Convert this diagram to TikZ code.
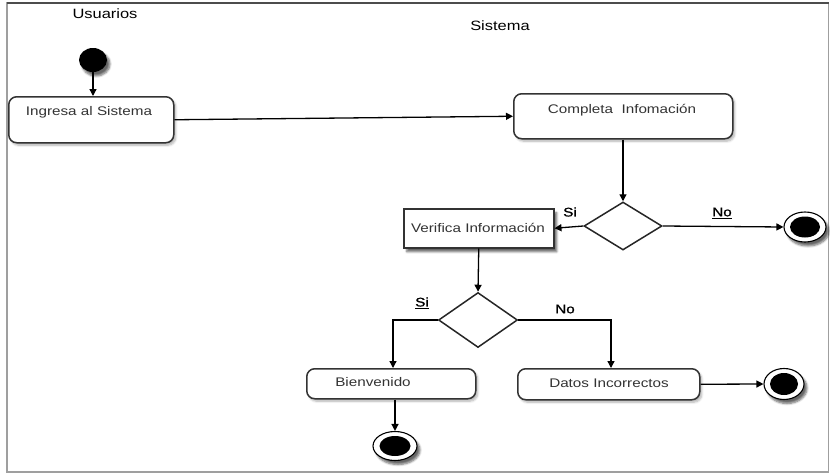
\documentclass[tikz,border=0pt]{standalone}
\usepackage{fontspec}
\setmainfont{Liberation Sans}[FakeStretch=1.22]
\newfontfamily\guardfont{Liberation Sans}[FakeStretch=1.22,FakeBold=1.2]
\usetikzlibrary{arrows.meta,shapes.geometric,shadows.blur}

\begin{document}
\begin{tikzpicture}[x=1pt,y=-1pt,
  every node/.style={font=\fontsize{12.5}{14}\selectfont},
  softshadow/.style={blur shadow={shadow xshift=2pt,shadow yshift=-2.5pt,shadow opacity=30,shadow blur steps=6}},
  darkshadow/.style={blur shadow={shadow xshift=3pt,shadow yshift=-4pt,shadow opacity=60,shadow blur steps=6}},
  roundbox/.style={draw=black!80,line width=1.5pt,rounded corners=8pt,fill=white,softshadow,anchor=north west,inner sep=0pt},
  sqbox/.style={draw=black!80,line width=1.5pt,fill=white,darkshadow,anchor=north west,inner sep=0pt},
  boxtext/.style={text=black!80,inner sep=0pt},
  decision/.style={diamond,draw=black!85,line width=1.5pt,fill=white,inner sep=0pt},
  flow/.style={draw=black,line width=1.3pt,-{Triangle[length=7pt,width=7pt]}},
  startdot/.style={ellipse,fill=black,minimum width=28pt,minimum height=24pt,inner sep=0pt,darkshadow},
  finalring/.style={ellipse,draw=black,line width=1.1pt,fill=white,minimum width=42pt,minimum height=30pt,inner sep=0pt,darkshadow},
  finaldot/.style={ellipse,fill=black,minimum width=30pt,minimum height=21pt,inner sep=0pt},
  guard/.style={text=black,inner sep=0pt,font=\guardfont\fontsize{12.5}{14}\selectfont}
]
\useasboundingbox (0,0) rectangle (830,474);

% frame
\draw[gray!75,line width=1.5pt] (7,3) rectangle (828.5,472);
\draw[black!70,line width=1.5pt] (7,3) -- (828.5,3);

% lane titles
\node[inner sep=0pt,font=\fontsize{13.5}{15}\selectfont] (usuarios) at (105,14) {Usuarios};
\node[inner sep=0pt,font=\fontsize{13.5}{15}\selectfont] (sistema) at (500,26) {Sistema};

% initial state
\node[startdot] (start) at (93,60) {};

% activities
\node[roundbox,minimum width=165pt,minimum height=46pt] (ingresa) at (8,96) {};
\node[boxtext] (ingresa-t) at (89,112) {Ingresa al Sistema};

\node[roundbox,minimum width=219pt,minimum height=45pt] (completa) at (513,93) {};
\node[boxtext] (completa-t) at (622,110) {Completa~ Infomación};

\node[sqbox,minimum width=150pt,minimum height=39pt] (verifica) at (403,208) {};
\node[boxtext] (verifica-t) at (478,227.5) {Verifica Información};

\node[roundbox,minimum width=169pt,minimum height=30pt] (bien) at (306,368) {};
\node[boxtext] (bien-t) at (373,382) {Bienvenido};

\node[roundbox,minimum width=182pt,minimum height=31pt] (datos) at (517,368) {};
\node[boxtext] (datos-t) at (609,383) {Datos Incorrectos};

% decisions
\node[decision,minimum width=78pt,minimum height=48pt] (d1) at (623,226) {};
\node[decision,minimum width=79pt,minimum height=55pt] (d2) at (478,320) {};

% final states
\node[finalring] (fin1) at (805,227) {};
\node[finaldot] (fin1-dot) at (fin1) {};
\node[finalring,minimum width=40pt,minimum height=31pt] (fin2) at (784,384) {};
\node[finaldot,minimum width=28pt,minimum height=22pt] (fin2-dot) at (fin2) {};
\node[finalring,minimum width=44pt,minimum height=29pt] (fin3) at (395,446) {};
\node[finaldot,minimum width=31pt,minimum height=20pt] (fin3-dot) at (fin3) {};

% control flow
\draw[flow] (start) -- (ingresa.north -| start);
\draw[flow] (ingresa.east) -- (completa.west);
\draw[flow] (completa.south -| d1) -- (d1.north);
\draw[flow] (d1.west) -- (verifica.east);
\draw[flow] (d1.east) -- (fin1.west);
\draw[flow] (verifica.south) -- (d2.north);
\coordinate (bien-in) at (393,368);
\coordinate (datos-in) at (611,368);
\draw[flow] (d2.west) -| (bien-in);
\draw[flow] (d2.east) -| (datos-in);
\draw[flow] (bien.south -| fin3) -- (fin3.north);
\draw[flow] (datos.east) -- (fin2.west);

% guards
\node[guard] (g1) at (570,212) {Si};
\node[guard] (g2) at (722,213) {\underline{No}};
\node[guard] (g3) at (422,303) {\underline{Si}};
\node[guard] (g4) at (565,309) {No};
\end{tikzpicture}
\end{document}
